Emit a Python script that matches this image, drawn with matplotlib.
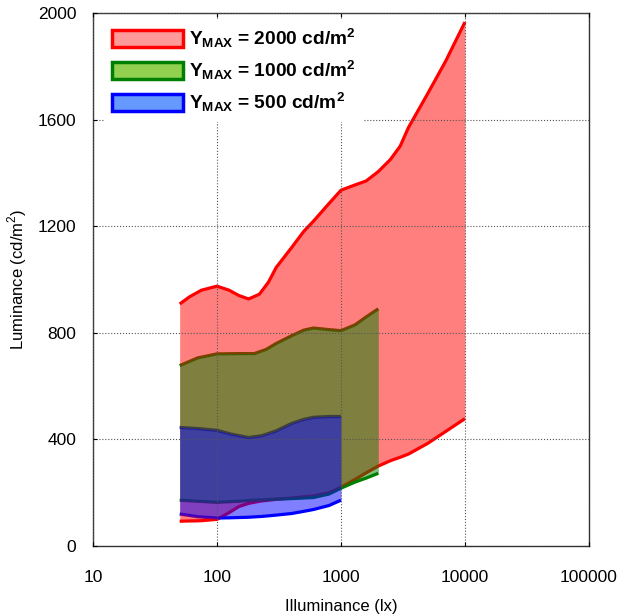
import matplotlib
matplotlib.use('Agg')
import matplotlib.pyplot as plt
from matplotlib.patches import Patch
import numpy as np

plt.rcParams['font.family'] = ['Liberation Sans', 'DejaVu Sans']
plt.rcParams['mathtext.fontset'] = 'custom'
plt.rcParams['mathtext.rm'] = 'Liberation Sans'
plt.rcParams['mathtext.bf'] = 'Liberation Sans:bold'

# Ymax = 2000 band
red_x = [50, 60, 75, 100, 125, 150, 180, 220, 260, 300, 400, 500, 600, 800, 1000, 1300, 1600, 2000, 2500, 3000, 3500, 5000, 7000, 10000]
red_hi = [908, 935, 960, 975, 960, 940, 927, 945, 990, 1045, 1120, 1180, 1219, 1285, 1335, 1355, 1370, 1405, 1450, 1500, 1570, 1697, 1820, 1966]
red_lo = [93, 94, 95, 100, 125, 148, 160, 168, 172, 175, 180, 185, 188, 200, 220, 250, 275, 300, 320, 333, 345, 385, 430, 478]

# Ymax = 1000 band
grn_x = [50, 70, 100, 150, 200, 250, 300, 400, 500, 600, 800, 1000, 1300, 1600, 2000]
grn_hi = [677, 706, 721, 722, 722, 738, 760, 789, 810, 818, 812, 808, 830, 860, 890]
grn_lo = [172, 168, 164, 168, 172, 174, 176, 178, 180, 182, 195, 217, 240, 255, 273]

# Ymax = 500 band
blu_x = [50, 70, 100, 130, 180, 230, 300, 400, 500, 600, 800, 1000]
blu_hi = [445, 441, 434, 420, 407, 414, 432, 460, 475, 483, 486, 486]
blu_lo = [120, 110, 105, 106, 108, 111, 116, 122, 130, 137, 152, 172]

labels = [r'$\mathbf{Y_{MAX}}$ = 2000 cd/m$^\mathbf{2}$',
          r'$\mathbf{Y_{MAX}}$ = 1000 cd/m$^\mathbf{2}$',
          r'$\mathbf{Y_{MAX}}$ = 500 cd/m$^\mathbf{2}$']

fig = plt.figure(figsize=(6.18, 6.16), dpi=100)
ax = fig.add_axes([0.1505, 0.1136, 0.8025, 0.8653])

bands = [(red_x, red_hi, red_lo, (1, 0, 0)),
         (grn_x, grn_hi, grn_lo, (0, 0.5, 0)),
         (blu_x, blu_hi, blu_lo, (0, 0, 1))]

# edges first, then translucent fills on top of them
for xs, hi, lo, c in bands:
    ax.plot(xs, hi, color=c, lw=2.3, zorder=1, solid_capstyle='butt')
    ax.plot(xs, lo, color=c, lw=2.3, zorder=1, solid_capstyle='butt')
for xs, hi, lo, c in bands:
    ax.fill_between(xs, lo, hi, color=c, alpha=0.5, lw=0, zorder=2)

ax.set_xscale('log')
ax.set_xlim(10, 100000)
ax.set_ylim(0, 2000)
ax.set_xticks([10, 100, 1000, 10000, 100000])
ax.set_xticklabels(['10', '100', '1000', '10000', '100000'])
ax.minorticks_off()
ax.set_yticks([0, 400, 800, 1200, 1600, 2000])
ax.tick_params(direction='in', top=True, right=False, labelsize=12.5, length=3)
ax.tick_params(axis='x', pad=17)
ax.tick_params(axis='y', pad=12)
ax.grid(True, linestyle=':', color='#555555', lw=0.8, zorder=3)
ax.set_axisbelow(False)
for s in ax.spines.values():
    s.set_linewidth(1.0)
    s.set_color('#333333')

ax.set_xlabel('Illuminance (lx)', fontsize=12, labelpad=10)
ax.set_ylabel('Luminance (cd/m$^2$)', fontsize=12, labelpad=6)

handles = [Patch(facecolor='#ff9a9a', edgecolor='red', lw=2.5),
           Patch(facecolor='#92d050', edgecolor='green', lw=2.5),
           Patch(facecolor='#6699ff', edgecolor='blue', lw=2.5)]
leg = ax.legend(handles, labels, loc='upper left', bbox_to_anchor=(0.012, 1.0),
                handlelength=3.7, handleheight=1.0, handletextpad=0.3,
                labelspacing=0.42, frameon=True, fancybox=False, framealpha=1,
                borderaxespad=0.3, prop={'weight': 'bold', 'size': 13.8})
leg.get_frame().set_edgecolor('none')
leg.set_zorder(5)

fig.savefig('out.png', dpi=100)
